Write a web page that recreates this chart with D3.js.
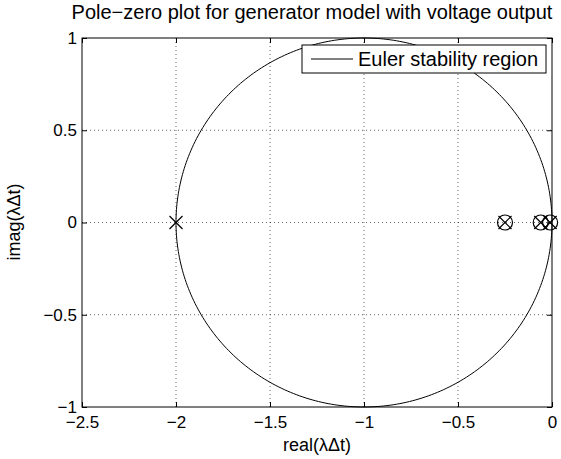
<!DOCTYPE html>
<html><head><meta charset="utf-8">
<script src="https://cdn.jsdelivr.net/npm/d3@7"></script>
<style>body{margin:0;background:#fff}svg{display:block}text{font-family:"Liberation Sans",Arial,Helvetica,sans-serif;fill:#000}</style>
</head><body>
<script>
const xTicks = [-2.5,-2,-1.5,-1,-0.5,0];
const yTicks = [-1,-0.5,0,0.5,1];
const xTickLabels = ["\u22122.5","\u22122","\u22121.5","\u22121","\u22120.5","0"];
const yTickLabels = ["\u22121","\u22120.5","0","0.5","1"];
const poleRe = [-2,-0.25,-0.06,-0.01];
const poleIm = [0,0,0,0];
const zeroRe = [-0.25,-0.06,-0.01];
const zeroIm = [0,0,0];
const circleCenter = [-1,0];
const circleRadius = 1;
const title = "Pole\u2212zero plot for generator model with voltage output";
const xLabel = "real(\u03bb\u0394t)";
const yLabel = "imag(\u03bb\u0394t)";
const legendLabel = "Euler stability region";

const W=561,H=459, L=82,R=552,T=38,B=407;
const svg=d3.select("body").append("svg").attr("width",W).attr("height",H);
const x=d3.scaleLinear().domain([-2.5,0]).range([L,R]);
const y=d3.scaleLinear().domain([-1,1]).range([B,T]);

// grid
const g=svg.append("g");
g.selectAll(".gx").data(xTicks.slice(1,-1)).enter().append("line")
 .attr("x1",d=>x(d)).attr("x2",d=>x(d)).attr("y1",T).attr("y2",B)
 .attr("stroke","#000").attr("stroke-width",0.6).attr("stroke-dasharray","1,3");
g.selectAll(".gy").data(yTicks.slice(1,-1)).enter().append("line")
 .attr("y1",d=>y(d)).attr("y2",d=>y(d)).attr("x1",L).attr("x2",R)
 .attr("stroke","#000").attr("stroke-width",0.6).attr("stroke-dasharray","1,3");

// circle
const th=d3.range(0,361,1).map(a=>a*Math.PI/180);
const line=d3.line().x(d=>x(d[0])).y(d=>y(d[1]));
svg.append("path").datum(th.map(t=>[circleCenter[0]+circleRadius*Math.cos(t),circleCenter[1]+circleRadius*Math.sin(t)]))
 .attr("d",line).attr("fill","none").attr("stroke","#000").attr("stroke-width",1);

// axes
const xa=svg.append("g").attr("transform",`translate(0,${B})`)
 .call(d3.axisBottom(x).tickValues(xTicks).tickFormat((d,i)=>xTickLabels[i]).tickSizeInner(-5).tickSizeOuter(0).tickPadding(9));
const xa2=svg.append("g").attr("transform",`translate(0,${T})`)
 .call(d3.axisTop(x).tickValues(xTicks).tickFormat("").tickSizeInner(-5).tickSizeOuter(0));
const ya=svg.append("g").attr("transform",`translate(${L},0)`)
 .call(d3.axisLeft(y).tickValues(yTicks).tickFormat((d,i)=>yTickLabels[i]).tickSizeInner(-5).tickSizeOuter(0).tickPadding(5));
const ya2=svg.append("g").attr("transform",`translate(${R},0)`)
 .call(d3.axisRight(y).tickValues(yTicks).tickFormat("").tickSizeInner(-5).tickSizeOuter(0));
[xa,xa2,ya,ya2].forEach(a=>{a.select(".domain").remove();a.selectAll("line").attr("stroke","#000");
 a.selectAll("text").style("font-size","17px").attr("fill","#000");});
svg.append("rect").attr("x",L).attr("y",T).attr("width",R-L).attr("height",B-T).attr("fill","none").attr("stroke","#000").attr("stroke-width",1);

// markers
const s=6.5;
poleRe.forEach((re,i)=>{
 const cx=x(re),cy=y(poleIm[i]);
 svg.append("path").attr("d",`M${cx-s},${cy-s}L${cx+s},${cy+s}M${cx-s},${cy+s}L${cx+s},${cy-s}`)
  .attr("stroke","#000").attr("stroke-width",1.2).attr("fill","none");
});
zeroRe.forEach((re,i)=>{
 svg.append("circle").attr("cx",x(re)).attr("cy",y(zeroIm[i])).attr("r",7.5)
  .attr("fill","none").attr("stroke","#000").attr("stroke-width",1.2);
});

// legend
const lg=svg.append("g");
lg.append("rect").attr("x",302).attr("y",45).attr("width",244).attr("height",28).attr("fill","#fff").attr("stroke","#000").attr("stroke-width",1);
lg.append("line").attr("x1",311).attr("x2",353).attr("y1",59).attr("y2",59).attr("stroke","#000").attr("stroke-width",1);
lg.append("text").attr("x",358).attr("y",66).style("font-size","20px").text(legendLabel);

// labels
svg.append("text").attr("x",312).attr("y",19).attr("text-anchor","middle").style("font-size","20px").text(title);
svg.append("text").attr("x",317).attr("y",451).attr("text-anchor","middle").style("font-size","18px").text(xLabel);
svg.append("text").attr("transform","translate(20,222) rotate(-90)").attr("text-anchor","middle").style("font-size","18px").text(yLabel);
</script>
</body></html>
